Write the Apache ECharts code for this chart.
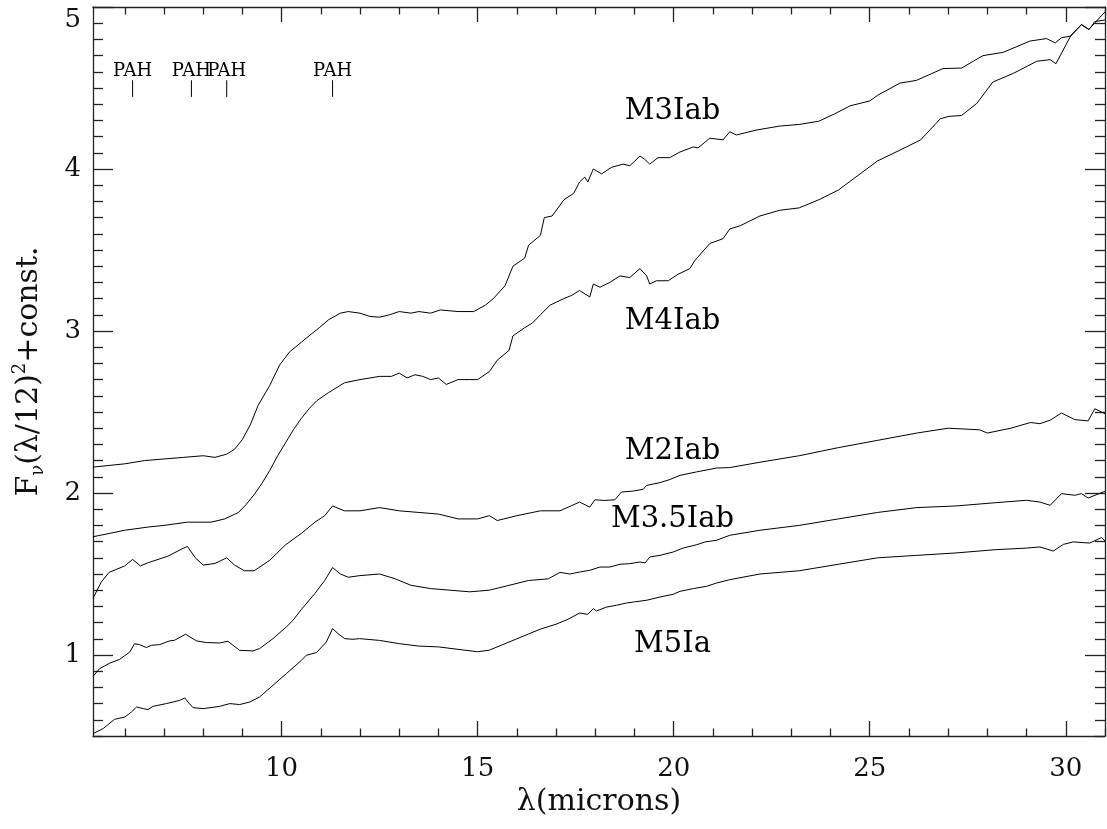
<!DOCTYPE html>
<html><head><meta charset="utf-8">
<script src="https://cdn.jsdelivr.net/npm/echarts@6/dist/echarts.min.js"></script>
<style>html,body{margin:0;padding:0;background:#fff}#c{width:1107px;height:829px}</style>
</head><body><div id="c"></div>
<script>
// ---- data (wavelength in microns, flux + const) ----
const m3iabX=[5.19,5.6,6.0,6.5,7.0,7.5,8.0,8.3,8.6,8.8,9.0,9.2,9.4,9.7,9.95,10.2,10.5,10.7,10.96,11.2,11.5,11.7,12.0,12.25,12.5,12.75,13.0,13.3,13.5,13.8,14.05,14.5,14.9,15.2,15.4,15.7,15.9,16.2,16.3,16.6,16.7,16.9,17.2,17.45,17.6,17.73,17.81,17.95,18.16,18.41,18.71,18.88,19.14,19.26,19.39,19.6,19.9,20.16,20.5,20.62,20.92,21.26,21.43,21.6,22.1,22.7,23.2,23.7,24.1,24.5,25.0,25.2,25.77,26.19,26.87,27.34,27.89,28.4,29.09,29.51,29.73,29.89,30.11,30.4,30.59,30.74,31.0];
const m3iabY=[2.16,2.17,2.18,2.20,2.21,2.22,2.23,2.22,2.24,2.27,2.33,2.42,2.54,2.665,2.79,2.87,2.93,2.97,3.02,3.07,3.11,3.12,3.11,3.09,3.085,3.10,3.12,3.11,3.12,3.11,3.13,3.12,3.12,3.16,3.20,3.28,3.40,3.45,3.53,3.59,3.70,3.71,3.81,3.85,3.92,3.95,3.92,4.00,3.97,4.01,4.03,4.02,4.08,4.06,4.03,4.07,4.07,4.105,4.136,4.13,4.19,4.18,4.23,4.21,4.24,4.265,4.275,4.295,4.34,4.39,4.42,4.455,4.53,4.547,4.62,4.623,4.70,4.72,4.79,4.805,4.778,4.81,4.82,4.89,4.86,4.91,4.92];

const m4iabX=[5.19,5.6,6.0,6.6,7.0,7.6,8.2,8.55,8.9,9.1,9.3,9.5,9.7,9.9,10.1,10.3,10.5,10.7,10.9,11.2,11.6,12.0,12.5,12.8,13.0,13.2,13.4,13.6,13.8,14.0,14.2,14.5,14.8,15.0,15.3,15.5,15.8,15.9,16.2,16.4,16.6,16.85,17.2,17.4,17.6,17.86,17.95,18.12,18.37,18.63,18.88,19.14,19.31,19.39,19.56,19.86,20.11,20.41,20.54,20.92,21.26,21.43,21.7,22.2,22.7,23.2,23.7,24.2,24.7,25.2,25.8,26.3,26.8,27.02,27.34,27.73,28.14,28.66,29.26,29.6,29.75,30.11,30.4,30.59,31.0];
const m4iabY=[1.73,1.75,1.77,1.79,1.80,1.82,1.82,1.84,1.88,1.93,1.99,2.06,2.14,2.23,2.31,2.39,2.46,2.52,2.57,2.62,2.68,2.70,2.72,2.72,2.74,2.71,2.73,2.72,2.70,2.71,2.67,2.70,2.70,2.70,2.75,2.82,2.88,2.97,3.02,3.05,3.10,3.16,3.20,3.22,3.25,3.21,3.29,3.27,3.30,3.34,3.33,3.385,3.34,3.29,3.31,3.31,3.35,3.385,3.435,3.54,3.57,3.63,3.65,3.71,3.745,3.76,3.81,3.87,3.96,4.05,4.12,4.18,4.31,4.325,4.33,4.405,4.537,4.59,4.665,4.675,4.65,4.815,4.893,4.862,4.97];

const m2iabX=[5.19,5.4,5.6,6.0,6.2,6.4,6.6,7.1,7.5,7.6,7.8,8.0,8.3,8.6,8.8,9.05,9.3,9.7,10.1,10.5,10.85,11.1,11.3,11.6,12.0,12.5,13.0,13.5,14.0,14.5,15.0,15.3,15.5,16.0,16.6,17.1,17.6,17.86,17.99,18.24,18.5,18.67,18.97,19.22,19.31,19.65,19.9,20.16,20.58,21.09,21.43,22.2,23.2,24.2,25.2,26.2,27.0,27.8,28.0,28.6,29.1,29.34,29.6,29.89,30.23,30.57,30.74,30.91,31.0];
const m2iabY=[1.35,1.45,1.51,1.55,1.59,1.55,1.57,1.61,1.66,1.67,1.60,1.555,1.565,1.60,1.555,1.52,1.52,1.585,1.68,1.75,1.82,1.86,1.92,1.89,1.89,1.91,1.89,1.88,1.87,1.84,1.84,1.86,1.83,1.86,1.89,1.89,1.944,1.913,1.958,1.954,1.958,2.006,2.012,2.023,2.047,2.064,2.083,2.109,2.13,2.154,2.157,2.19,2.23,2.28,2.325,2.37,2.40,2.39,2.37,2.40,2.435,2.428,2.449,2.494,2.453,2.445,2.52,2.50,2.49];

const m35iabX=[5.19,5.36,5.62,5.87,6.13,6.25,6.38,6.55,6.68,6.89,7.14,7.27,7.55,7.83,8.08,8.42,8.63,8.76,8.93,9.27,9.44,9.78,10.12,10.29,10.5,10.85,11.1,11.3,11.5,11.7,12.0,12.5,12.9,13.3,13.8,14.3,14.8,15.3,15.8,16.3,16.8,17.1,17.35,17.6,17.86,18.12,18.37,18.63,18.88,19.14,19.27,19.39,19.65,19.99,20.24,20.59,20.8,20.92,21.09,21.43,22.2,23.2,24.2,25.2,26.2,27.2,28.2,29.0,29.34,29.6,29.89,30.23,30.4,30.57,30.95,31.0];
const m35iabY=[0.868,0.916,0.95,0.973,1.019,1.07,1.064,1.046,1.06,1.064,1.087,1.091,1.128,1.087,1.077,1.074,1.085,1.06,1.029,1.025,1.04,1.101,1.173,1.214,1.28,1.38,1.46,1.54,1.50,1.48,1.49,1.50,1.47,1.43,1.41,1.40,1.39,1.40,1.43,1.46,1.47,1.51,1.50,1.512,1.523,1.543,1.543,1.56,1.564,1.574,1.568,1.605,1.615,1.636,1.66,1.681,1.698,1.702,1.708,1.739,1.77,1.80,1.84,1.88,1.91,1.92,1.94,1.955,1.944,1.924,1.996,1.986,1.996,1.969,2.006,2.01];

const m5iaX=[5.19,5.45,5.74,6.0,6.17,6.3,6.47,6.59,6.72,7.06,7.4,7.53,7.61,7.74,8.0,8.42,8.68,8.93,9.19,9.44,9.78,10.12,10.46,10.63,10.89,11.14,11.3,11.44,11.61,11.82,11.99,12.5,13.0,13.5,14.0,14.5,15.0,15.3,15.6,16.0,16.3,16.6,17.0,17.3,17.6,17.81,17.95,18.03,18.29,18.54,18.8,18.97,19.31,19.65,19.99,20.16,20.5,20.84,21.09,21.43,22.2,23.2,24.2,25.2,26.2,27.2,28.2,29.0,29.34,29.68,29.94,30.19,30.61,30.91,31.0];
const m5iaY=[0.515,0.546,0.603,0.617,0.648,0.679,0.669,0.663,0.683,0.70,0.72,0.735,0.71,0.675,0.669,0.683,0.70,0.694,0.71,0.741,0.813,0.885,0.957,0.998,1.015,1.08,1.163,1.132,1.101,1.097,1.101,1.09,1.07,1.055,1.05,1.035,1.02,1.03,1.06,1.10,1.13,1.16,1.19,1.22,1.259,1.251,1.286,1.272,1.296,1.307,1.321,1.327,1.338,1.358,1.375,1.393,1.41,1.424,1.444,1.465,1.50,1.52,1.56,1.60,1.615,1.63,1.65,1.66,1.667,1.642,1.683,1.698,1.691,1.725,1.704];

// curve labels
const labelNames=['M3Iab','M4Iab','M2Iab','M3.5Iab','M5Ia'];
const labelX=[19.97,19.97,19.97,19.97,19.97];
const labelY=[4.355,3.06,2.257,1.838,1.066];

// PAH feature markers
const pahX=[6.2,7.7,8.6,11.3];
const pahLow=4.445, pahHigh=4.548, pahTextY=4.603;

// axis ticks
const xMajor=[10,15,20,25,30];
const xMinor=[6,7,8,9,11,12,13,14,16,17,18,19,21,22,23,24,26,27,28,29,31];
const yMajor=[1,2,3,4,5];
const yMinor=[];
for(let i=5;i<=50;i++){ if(i%10!==0) yMinor.push(Math.round(i)/10); }

const X_MIN=5.19, X_MAX=31.0, Y_MIN=0.5, Y_MAX=5.0;
const FONT='DejaVu Serif';
const AX='#222';

function xAx(pos, ticks, len, labels, lineShow){
  return {type:'value', min:X_MIN, max:X_MAX, position:pos, splitLine:{show:false},
    axisLine:{show:lineShow, onZero:false, lineStyle:{color:AX,width:1.3}},
    axisTick:{show:true, inside:true, length:len, customValues:ticks, lineStyle:{color:AX,width:1.3}},
    axisLabel: labels ? {show:true, customValues:labels, margin:20, fontFamily:FONT, fontSize:26, color:'#111'} : {show:false}};
}
function yAx(pos, ticks, len, labels, lineShow){
  return {type:'value', min:Y_MIN, max:Y_MAX, position:pos, splitLine:{show:false},
    axisLine:{show:lineShow, onZero:false, lineStyle:{color:AX,width:1.3}},
    axisTick:{show:true, inside:true, length:len, customValues:ticks, lineStyle:{color:AX,width:1.3}},
    axisLabel: labels ? {show:true, customValues:labels, margin:12, fontFamily:FONT, fontSize:26, color:'#111', verticalAlignMaxLabel:'top'} : {show:false}};
}

const xAxes=[xAx('bottom',xMajor,15,xMajor,true), xAx('bottom',xMinor,7.5,null,false), xAx('top',xMajor,15,null,true), xAx('top',xMinor,7.5,null,false)];
xAxes[0].name='λ(microns)';
xAxes[0].nameLocation='middle';
xAxes[0].nameGap=40;
xAxes[0].nameTextStyle={fontFamily:FONT,fontSize:30,color:'#111'};

const yAxes=[yAx('left',yMajor,20,yMajor,true), yAx('left',yMinor,10,null,false), yAx('right',yMajor,20,null,true), yAx('right',yMinor,10,null,false)];
yAxes[0].name='{a|F}{s|ν}{a|(λ/12)}{p|2}{a|+const.}';
yAxes[0].nameLocation='middle';
yAxes[0].nameGap=46;
yAxes[0].nameTextStyle={fontFamily:FONT,fontSize:30,color:'#111',
  rich:{a:{fontFamily:FONT,fontSize:30,color:'#111',lineHeight:36},
        s:{fontFamily:FONT,fontSize:18,color:'#111',lineHeight:18,verticalAlign:'bottom'},
        p:{fontFamily:FONT,fontSize:18,color:'#111',lineHeight:18,verticalAlign:'top'}}};

function zip(xs,ys){ return xs.map((x,i)=>[x,ys[i]]); }
function spec(d){ return {type:'line', data:d, showSymbol:false, symbol:'none', clip:true,
  lineStyle:{color:'#000',width:1}, xAxisIndex:0, yAxisIndex:0, silent:true, z:3}; }

const series=[spec(zip(m3iabX,m3iabY)), spec(zip(m4iabX,m4iabY)), spec(zip(m2iabX,m2iabY)), spec(zip(m35iabX,m35iabY)), spec(zip(m5iaX,m5iaY))];

pahX.forEach(x=>{
  series.push({type:'line', data:[[x,pahLow],[x,pahHigh]], showSymbol:false, symbol:'none',
    lineStyle:{color:'#000',width:1}, silent:true});
});
const lab={show:true, position:'inside', formatter:'{b}', fontFamily:FONT, color:'#000', opacity:1, textBorderWidth:0};
series.push({type:'scatter', symbolSize:0, silent:true, itemStyle:{opacity:1},
  data:pahX.map(x=>({value:[x,pahTextY], name:'PAH'})),
  label:Object.assign({}, lab, {fontSize:18})});
series.push({type:'scatter', symbolSize:0, silent:true, itemStyle:{opacity:1},
  data:labelNames.map((n,i)=>({value:[labelX[i],labelY[i]], name:n})),
  label:Object.assign({}, lab, {fontSize:29})});

const chart=echarts.init(document.getElementById('c'),null,{renderer:'canvas'});
chart.setOption({
  animation:false,
  backgroundColor:'#fff',
  grid:{left:93, top:7, right:2, bottom:93, containLabel:false},
  xAxis:xAxes, yAxis:yAxes, series:series
});
</script></body></html>
